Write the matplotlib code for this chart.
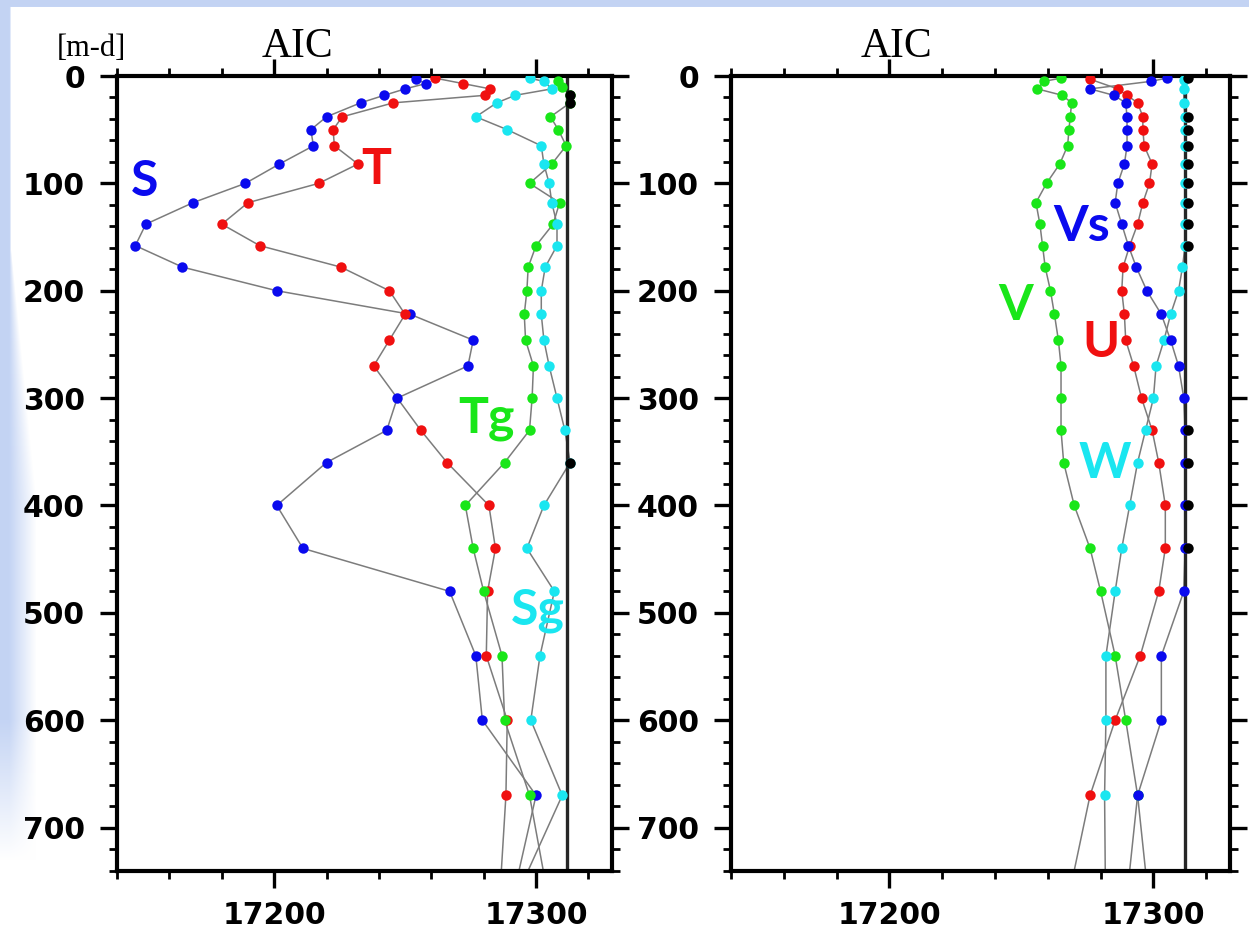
import matplotlib
matplotlib.use("Agg")
import matplotlib.pyplot as plt
import numpy as np
from matplotlib.ticker import MultipleLocator

# ---- painel esquerdo (S, T, Tg, Sg) ----
S_depth = [3, 7, 12, 18, 25, 38, 50, 65, 82, 100, 118, 138, 158, 178, 200, 222, 246, 270,
           300, 330, 360, 400, 440, 480, 540, 600, 670, 810]
S_aic = [17254, 17258, 17250, 17242, 17233, 17220, 17214, 17215, 17202, 17189, 17169, 17151,
         17147, 17165, 17201, 17252, 17276, 17274, 17247, 17243, 17220, 17201, 17211, 17267,
         17277, 17279.5, 17300, 17287]

T_depth = [2, 7, 12, 18, 25, 38, 50, 65, 82, 100, 118, 138, 158, 178, 200, 222, 246, 270,
           330, 360, 400, 440, 480, 540, 600, 670, 810]
T_aic = [17261.5, 17272, 17282.5, 17280.5, 17245.5, 17226, 17222.5, 17223, 17232, 17217,
         17190, 17180, 17194.5, 17225.5, 17244, 17250, 17244, 17238, 17256, 17266, 17282,
         17284.5, 17281.5, 17281, 17289, 17288.5, 17285]

Tg_depth = [5, 10, 18, 25, 38, 50, 65, 82, 100, 118, 138, 158, 178, 200, 222, 246, 270,
            300, 330, 360, 400, 440, 480, 540, 600, 670, 810]
Tg_aic = [17308.5, 17310, 17313, 17313, 17305.5, 17308.5, 17311.5, 17306, 17297.5, 17309,
          17306.5, 17300, 17297, 17296.5, 17295.5, 17296, 17299, 17298.5, 17297.5, 17288,
          17273, 17276, 17280, 17287, 17288, 17297.5, 17308]

Sg_depth = [2, 5, 12, 18, 25, 38, 50, 65, 82, 100, 118, 138, 158, 178, 200, 222, 246, 270,
            300, 330, 360, 400, 440, 480, 540, 600, 670, 810]
Sg_aic = [17297.5, 17303, 17306, 17292, 17285, 17277, 17289, 17302, 17303, 17305, 17306,
          17308, 17308, 17303.5, 17302, 17302, 17303, 17305, 17308, 17311, 17313, 17303,
          17296.5, 17307, 17301.5, 17298, 17310, 17284]

black_left_depth = [18, 25, 360]

# ---- painel direito (V, Vs, U, W) ----
V_depth = [2, 5, 12, 18, 25, 38, 50, 65, 82, 100, 118, 138, 158, 178, 200, 222, 246, 270,
           300, 330, 360, 400, 440, 480, 540, 600, 670, 810]
V_aic = [17265, 17258.5, 17256, 17265.5, 17269, 17268.5, 17268, 17267.5, 17264.5, 17259.5,
         17255.5, 17257, 17258, 17259, 17261, 17262.5, 17264, 17265, 17265, 17265, 17266,
         17270, 17276, 17280, 17285.5, 17289.5, 17294, 17300]

Vs_depth = [2, 5, 12, 18, 25, 38, 50, 65, 82, 100, 118, 138, 158, 178, 200, 222, 246, 270,
            300, 330, 360, 400, 440, 480, 540, 600, 670, 810]
Vs_aic = [17305, 17299, 17276, 17285, 17289.5, 17290, 17290, 17290, 17289, 17286.5, 17285.5,
          17288, 17290.5, 17293.5, 17297.5, 17303, 17306.5, 17309.5, 17311.5, 17312, 17312,
          17312, 17312, 17311.5, 17303, 17303, 17294, 17288]

U_depth = [3, 12, 18, 25, 38, 50, 65, 82, 100, 118, 138, 158, 178, 200, 222, 246, 270,
           300, 330, 360, 400, 440, 480, 540, 600, 670, 810]
U_aic = [17276, 17286.5, 17290, 17294, 17296, 17296, 17296.5, 17299.5, 17298.5, 17296,
         17294, 17291, 17288.5, 17288, 17289, 17289.5, 17292.5, 17295.5, 17299.5, 17302,
         17304.5, 17304.5, 17302, 17295, 17285.5, 17276, 17264]

W_depth = [4, 12, 25, 38, 50, 65, 82, 100, 118, 138, 158, 178, 200, 222, 246, 270, 300,
           330, 360, 400, 440, 480, 540, 600, 670, 810]
W_aic = [17311.5, 17311.5, 17311.5, 17312, 17312, 17312, 17312, 17312, 17312, 17312, 17312,
         17311, 17309.5, 17306.5, 17304, 17301, 17300, 17297, 17294, 17291, 17288, 17285.5,
         17282, 17282, 17281.5, 17282]

black_right_depth = [2, 38, 50, 65, 82, 100, 118, 138, 158, 330, 360, 400, 440]

aic_min = 17312      # linha vertical
black_aic = 17313

BLUE, RED, GREEN, CYAN = '#0a0aee', '#f01010', '#19e619', '#1ae6f0'

W_PX, H_PX = 1249, 931
fig = plt.figure(figsize=(W_PX / 100, H_PX / 100), dpi=100)

# fundo do slide (faixa azul clara)
yy, xx = np.mgrid[0:H_PX, 0:W_PX]
s = 2 + 25 * np.clip((yy - 250) / 250, 0, 1)
a_left = np.clip(1 - (xx - 9) / s, 0, 1) * np.clip((860 - yy) / 140, 0, 1)
a = np.maximum(a_left, (yy < 7).astype(float))
blue_bg = np.array([196, 212, 244]) / 255
img = 1 - a[..., None] * (1 - blue_bg)
bg = fig.add_axes([0, 0, 1, 1], zorder=-10)
bg.imshow(img, aspect='auto', extent=(0, 1, 0, 1), origin='upper')
bg.axis('off')


def painel(ax, series, black_depth, labels):
    ax.axvline(aic_min, color='#262626', lw=2.4, zorder=2)
    for x, y, c in series:
        ax.plot(x, y, '-', color='#7c7c7c', lw=1.1, zorder=1)
    for x, y, c in series:
        ax.plot(x, y, 'o', color=c, ms=7.5, mec='none', zorder=3)
    ax.plot([black_aic] * len(black_depth), black_depth, 'o', color='black', ms=7.5,
            mec='none', zorder=4)
    for txt, x, y, c in labels:
        ax.text(x, y, txt, color=c, fontsize=36, fontweight='bold', family='Lato',
                ha='center', va='baseline', zorder=5)
    ax.set_xlim(17140, 17329)
    ax.set_ylim(740, 0)
    ax.set_xticks([17200, 17300])
    ax.set_yticks(range(0, 701, 100))
    ax.xaxis.set_minor_locator(MultipleLocator(20))
    ax.yaxis.set_minor_locator(MultipleLocator(20))
    ax.tick_params(which='both', direction='out', top=True, right=True,
                   labeltop=False, labelright=False)
    ax.tick_params(which='major', length=12, width=2.4, labelsize=21.5)
    ax.tick_params(which='minor', length=6, width=2.0)
    ax.tick_params(axis='y', which='major', pad=11)
    ax.tick_params(axis='x', which='major', pad=10)
    for lab in ax.get_xticklabels() + ax.get_yticklabels():
        lab.set_fontweight('bold')
        lab.set_family('DejaVu Sans')
    for sp in ax.spines.values():
        sp.set_linewidth(3)
    ax.set_facecolor('white')


ax1 = fig.add_axes([117 / W_PX, 1 - 870.5 / H_PX, 495 / W_PX, 794.5 / H_PX])
painel(ax1,
       [(S_aic, S_depth, BLUE), (T_aic, T_depth, RED), (Tg_aic, Tg_depth, GREEN),
        (Sg_aic, Sg_depth, CYAN)],
       black_left_depth,
       [('S', 17150.5, 112, BLUE), ('T', 17239, 101, RED), ('Tg', 17281, 332, GREEN),
        ('Sg', 17300.5, 511, CYAN)])

ax2 = fig.add_axes([731 / W_PX, 1 - 870.5 / H_PX, 499 / W_PX, 794.5 / H_PX])
painel(ax2,
       [(V_aic, V_depth, GREEN), (U_aic, U_depth, RED), (W_aic, W_depth, CYAN),
        (Vs_aic, Vs_depth, BLUE)],
       black_right_depth,
       [('Vs', 17273, 154, BLUE), ('V', 17248, 227, GREEN), ('U', 17280, 262, RED),
        ('W', 17281.5, 374, CYAN)])

# títulos
fig.text(297 / W_PX, 1 - 57 / H_PX, 'AIC', family='Liberation Serif', fontsize=30,
         ha='center', va='baseline')
fig.text(896 / W_PX, 1 - 57 / H_PX, 'AIC', family='Liberation Serif', fontsize=30,
         ha='center', va='baseline')
fig.text(91 / W_PX, 1 - 56 / H_PX, '[m-d]', family='Liberation Serif', fontsize=22,
         ha='center', va='baseline')

fig.savefig('out.png', dpi=100)
